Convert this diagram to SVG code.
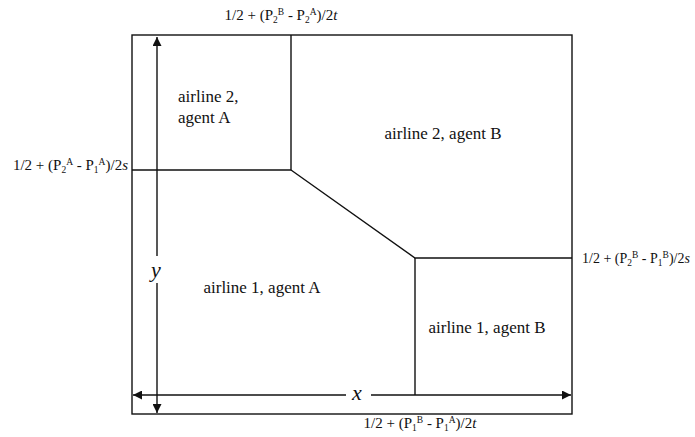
<svg xmlns="http://www.w3.org/2000/svg" width="695" height="437" viewBox="0 0 695 437">
<defs>
<style>
.ln{stroke:#111;stroke-width:1.4;fill:none}
.lbl{font-family:"Liberation Serif","Times New Roman",serif;font-size:17px;fill:#111}
.eq{font-family:"Liberation Serif","Times New Roman",serif;font-size:15px;fill:#111}
.eqs{font-size:14px}
.s{font-size:9.5px}
.var{font-family:"Liberation Serif","Times New Roman",serif;font-size:22px;font-style:italic;fill:#111}
</style>
<marker id="ah" viewBox="0 0 10 10" refX="10" refY="5" markerWidth="9" markerHeight="9" markerUnits="userSpaceOnUse" orient="auto-start-reverse">
<path d="M0,0 L10,5 L0,10 Z" fill="#111"/>
</marker>
</defs>
<rect width="695" height="437" fill="#fff"/>
<g id="frame">
<rect x="132" y="35" width="440" height="379" class="ln"/>
</g>
<g id="connectors">
<polyline class="ln" points="291,35 291,170 132,170"/>
<polyline class="ln" points="291,170 415,258 572,258"/>
<line class="ln" x1="415" y1="258" x2="415" y2="395"/>
<line class="ln" x1="157" y1="37" x2="157" y2="256" marker-start="url(#ah)"/>
<line class="ln" x1="157" y1="283" x2="157" y2="413" marker-end="url(#ah)"/>
<line class="ln" x1="133" y1="395" x2="346" y2="395" marker-start="url(#ah)"/>
<line class="ln" x1="371" y1="395" x2="571" y2="395" marker-end="url(#ah)"/>
</g>
<g id="region-2A">
<text class="lbl" x="178" y="102">airline 2,</text>
<text class="lbl" x="178" y="123">agent A</text>
</g>
<g id="region-2B">
<text class="lbl" x="443" y="139" text-anchor="middle">airline 2, agent B</text>
</g>
<g id="region-1A">
<text class="lbl" x="262" y="293" text-anchor="middle">airline 1, agent A</text>
</g>
<g id="region-1B">
<text class="lbl" x="487" y="333" text-anchor="middle">airline 1, agent B</text>
</g>
<g id="axis-labels">
<text class="var" x="151" y="277">y</text>
<text class="var" x="352" y="400">x</text>
</g>
<g id="boundary-labels">
<text class="eq" x="281" y="20" text-anchor="middle">1/2 + (P<tspan class="s" dy="3">2</tspan><tspan class="s" dy="-8">B</tspan><tspan dy="5"> - P</tspan><tspan class="s" dy="3">2</tspan><tspan class="s" dy="-8">A</tspan><tspan dy="5">)/2</tspan><tspan font-style="italic">t</tspan></text>
<text class="eq" x="128" y="170" text-anchor="end">1/2 + (P<tspan class="s" dy="3">2</tspan><tspan class="s" dy="-8">A</tspan><tspan dy="5"> - P</tspan><tspan class="s" dy="3">1</tspan><tspan class="s" dy="-8">A</tspan><tspan dy="5">)/2</tspan><tspan font-style="italic">s</tspan></text>
<text class="eq eqs" x="582" y="263">1/2 + (P<tspan class="s" dy="3">2</tspan><tspan class="s" dy="-8">B</tspan><tspan dy="5"> - P</tspan><tspan class="s" dy="3">1</tspan><tspan class="s" dy="-8">B</tspan><tspan dy="5">)/2</tspan><tspan font-style="italic">s</tspan></text>
<text class="eq" x="420" y="428" text-anchor="middle">1/2 + (P<tspan class="s" dy="3">1</tspan><tspan class="s" dy="-8">B</tspan><tspan dy="5"> - P</tspan><tspan class="s" dy="3">1</tspan><tspan class="s" dy="-8">A</tspan><tspan dy="5">)/2</tspan><tspan font-style="italic">t</tspan></text>
</g>
</svg>
